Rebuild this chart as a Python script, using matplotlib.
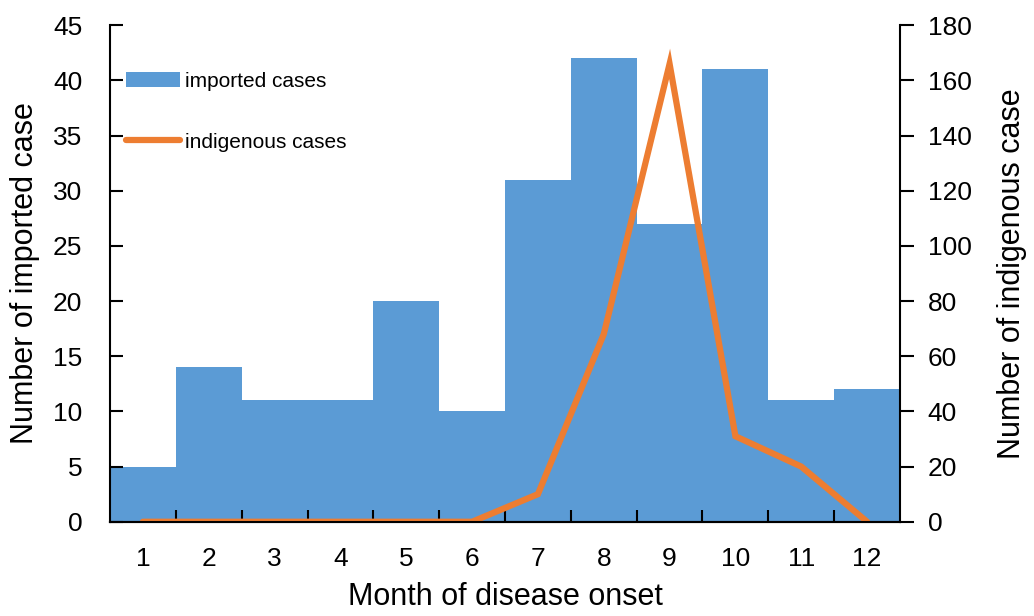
import matplotlib
matplotlib.use("Agg")
import matplotlib.pyplot as plt
from matplotlib.patches import Patch
from matplotlib.lines import Line2D

months = list(range(1, 13))
imported = [5, 14, 11, 11, 20, 10, 31, 42, 27, 41, 11, 12]
indigenous = [0, 0, 0, 0, 0, 0, 10, 68, 166, 31, 20, 0]

blue = "#5b9bd5"
orange = "#ed7d31"

plt.rcParams.update({
    "font.family": ["Liberation Sans", "DejaVu Sans"],
    "axes.linewidth": 1.5,
})

fig = plt.figure(figsize=(10.34, 6.16), dpi=100)
ax = fig.add_axes([0.1064, 0.153, 0.764, 0.806])

# imported cases as touching bars
ax.bar(months, imported, width=1.0, color=blue, zorder=1)
ax.set_xlim(0.5, 12.5)
ax.set_ylim(0, 45)
ax.set_yticks(range(0, 46, 5))
ax.set_xticks(months)
ax.set_xticks([m + 0.5 for m in months[:-1]], minor=True)
ax.tick_params(axis="x", which="major", length=0, labelsize=19, pad=18)
ax.tick_params(axis="x", which="minor", direction="in", length=9, width=1.5)
ax.tick_params(axis="y", direction="in", length=9, width=1.5, labelsize=19, pad=20)
ax.spines["top"].set_visible(False)
ax.spines["right"].set_visible(False)
ax.set_xlabel("Month of disease onset", fontsize=22, labelpad=8)
ax.set_ylabel("Number of imported case", fontsize=22, labelpad=9)

# indigenous cases on the right axis
ax2 = ax.twinx()
ax2.plot(months, indigenous, color=orange, lw=4.5, solid_capstyle="round",
         solid_joinstyle="miter")
ax2.set_ylim(0, 180)
ax2.set_yticks(range(0, 181, 20))
ax2.tick_params(axis="y", direction="out", length=10, width=1.5, labelsize=19, pad=10)
ax2.spines["top"].set_visible(False)
ax2.spines["left"].set_visible(False)
ax2.set_ylabel("Number of indigenous case", fontsize=22, labelpad=18)

handles = [
    Patch(facecolor=blue, edgecolor="none"),
    Line2D([0], [0], color=orange, lw=4.5, solid_capstyle="round"),
]
ax2.legend(handles, ["imported cases", "indigenous cases"], loc="upper left",
           bbox_to_anchor=(0.02, 0.906), frameon=False, fontsize=15,
           handlelength=2.6, handletextpad=0.25, labelspacing=2.0,
           borderpad=0, borderaxespad=0)

fig.savefig("out.png", dpi=100)
